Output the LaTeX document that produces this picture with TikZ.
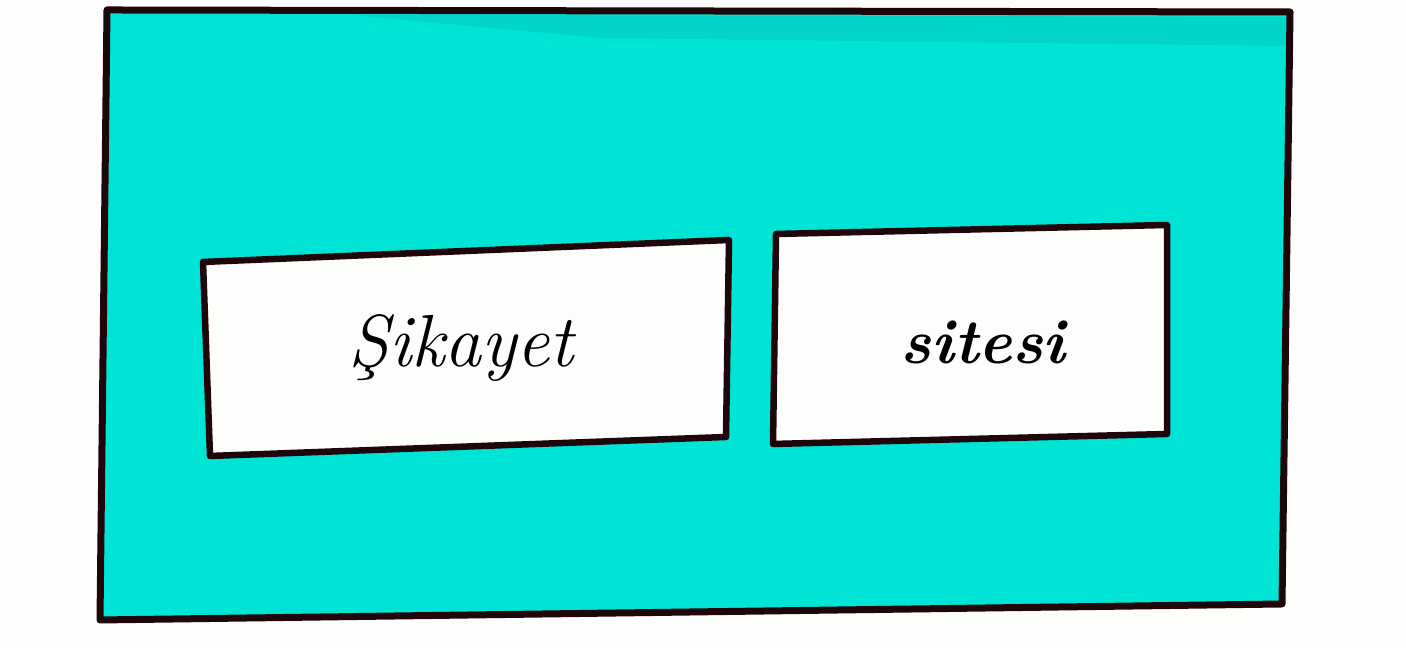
\documentclass[tikz,border=0pt]{standalone}
\usepackage{tikz}
\usetikzlibrary{calc}
\definecolor{teal}{RGB}{0,228,214}
\definecolor{tealdark}{RGB}{0,204,192}
\definecolor{paper}{RGB}{253,253,251}
\definecolor{ink}{RGB}{30,6,10}
\begin{document}
\begin{tikzpicture}
		%%%%% START %%%%%
		
		\fill[paper] (0, 0) rectangle (14.06, 6.48);
		\useasboundingbox (0, 0) rectangle (14.06, 6.48);
		
		\fill[teal] (1.07, 6.38) -- (12.90, 6.36) -- (12.82, 0.44) -- (1.00, 0.28) -- cycle;
		\fill[tealdark, opacity=0.6] (3.5, 6.33) -- (12.86, 6.31) -- (12.86, 6.02) -- (6.0, 6.10) -- cycle;
		\draw[line width=0.7mm, color=ink, line join=round] (1.07, 6.38) -- (12.90, 6.36) -- (12.82, 0.44) -- (1.00, 0.28) -- cycle;
		
		\draw[line width=0.65mm, color=ink, fill=paper, line join=round] (2.03, 3.86) -- (7.29, 4.08) -- (7.26, 2.11) -- (2.10, 1.92) -- cycle;
		\draw[line width=0.65mm, color=ink, fill=paper, line join=round] (7.76, 4.14) -- (11.67, 4.23) -- (11.67, 2.14) -- (7.73, 2.04) -- cycle;
		
		\node (sikayet) at (4.61, 3.00) {\fontsize{21}{25}\selectfont\itshape Şikayet};
		\node (sitesi) at (9.83, 3.06) {\fontsize{18}{22}\selectfont\bfseries\itshape sitesi};
		
		%%%%% END %%%%%
	\end{tikzpicture}
\end{document}
